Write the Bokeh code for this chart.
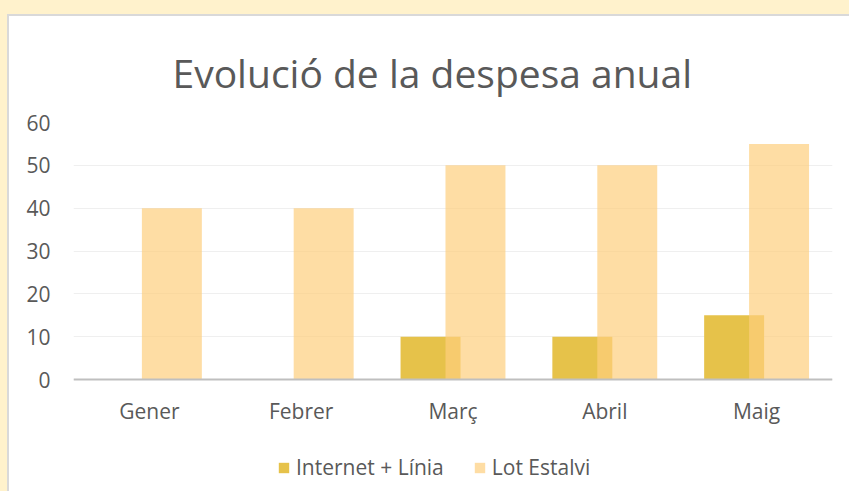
from bokeh.plotting import figure
from bokeh.models import (FactorRange, Range1d, Legend, LegendItem, ColumnDataSource,
                          GlobalInlineStyleSheet, LabelSet, Span)
from bokeh.core.properties import value
from bokeh.transform import dodge
from bokeh.embed import file_html
from bokeh.resources import INLINE

months = ["Gener", "Febrer", "Març", "Abril", "Maig"]
internet = [0, 0, 10, 10, 15]
lot = [40, 40, 50, 50, 55]
y_ticks = [0, 10, 20, 30, 40, 50, 60]

src = ColumnDataSource(dict(month=months, internet=internet, lot=lot))

FONT = "Open Sans"
TXT = "#595959"

# frame extends below the value axis to host the category labels and the legend
PX_PER_UNIT = 257 / 60.0
Y_BOTTOM = 60 - 369 / PX_PER_UNIT

p = figure(x_range=FactorRange(*months, range_padding=0), y_range=Range1d(Y_BOTTOM, 60),
           frame_width=759, frame_height=369, output_backend="svg", toolbar_location=None,
           min_border_left=64, min_border_right=17, min_border_top=106, min_border_bottom=0,
           background_fill_color="white", border_fill_color="white", outline_line_color=None)
p.stylesheets = [GlobalInlineStyleSheet(css=(
    "html{background-color:#FFF2CC;}"
    "body{margin:14px 0 0 7px;padding:0;border-left:2px solid #D9D9D9;"
    "border-top:2px solid #D9D9D9;background-color:#FFFFFF;overflow:hidden;}"))]

r1 = p.vbar(x=dodge("month", -0.148, range=p.x_range), top="internet", bottom=0, width=0.395,
            source=src, fill_color="#E6C24A", line_color=None)
r2 = p.vbar(x=dodge("month", 0.148, range=p.x_range), top="lot", bottom=0, width=0.395,
            source=src, fill_color="#FECE7D", fill_alpha=0.7, line_color=None)

p.add_layout(Span(location=0, dimension="width", line_color="#BFBFBF", line_width=2))

p.add_layout(LabelSet(x="month", y=0, text="month", source=src, y_offset=-31,
                      text_align="center", text_baseline="middle",
                      text_font=value(FONT), text_font_size=value("21px"), text_color=TXT))

p.title.text = "Evolució de la despesa anual"
p.title.align = "left"
p.title.offset = 99
p.title.text_font = FONT
p.title.text_font_size = "39px"
p.title.text_font_style = "normal"
p.title.text_color = TXT
p.title.standoff = 48

p.xgrid.grid_line_color = None
p.ygrid.grid_line_color = "#EFEFEF"
p.ygrid.grid_line_width = 1
p.xaxis.visible = False

p.yaxis.ticker = y_ticks
p.yaxis.axis_line_color = None
p.yaxis.major_tick_line_color = None
p.yaxis.minor_tick_line_color = None
p.yaxis.major_tick_out = 0
p.yaxis.major_tick_in = 0
p.yaxis.major_label_standoff = 23
p.yaxis.major_label_text_font = FONT
p.yaxis.major_label_text_font_size = "21px"
p.yaxis.major_label_text_color = TXT

legend = Legend(items=[LegendItem(label="Internet + Línia", renderers=[r1]),
                       LegendItem(label="Lot Estalvi", renderers=[r2])],
                orientation="horizontal", location=(204, 10),
                glyph_width=13, glyph_height=13, label_standoff=6, spacing=29,
                label_text_font=FONT, label_text_font_size="21px", label_text_color=TXT,
                border_line_color=None, background_fill_alpha=0, padding=4, margin=0)
p.add_layout(legend)

open("out.html", "w").write(file_html(p, INLINE))
